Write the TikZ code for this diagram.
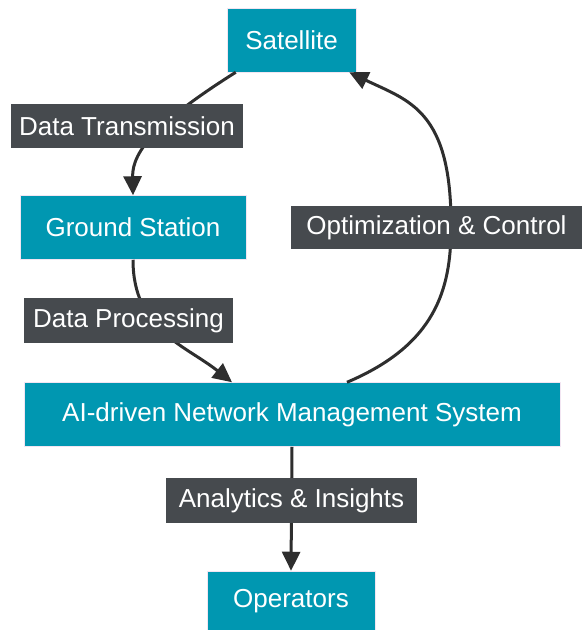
\documentclass[tikz,border=0pt]{standalone}
\usepackage{fontspec}
\setmainfont{Liberation Sans}
\usetikzlibrary{positioning,arrows.meta,calc}
\definecolor{tealbox}{HTML}{0097B1}
\definecolor{slatebox}{HTML}{464A4E}
\definecolor{linkline}{HTML}{2E2E2E}

\begin{document}
\begin{tikzpicture}[
  x=1pt, y=-1pt,
  font=\fontsize{26}{30}\selectfont,
  box/.style={fill=tealbox, draw=violet!10, line width=0.5pt, text=white,
              inner sep=0pt, minimum height=64pt},
  tag/.style={fill=slatebox, text=white, inner sep=0pt, minimum height=44pt},
  arr/.style={draw=linkline, line width=3pt, -{Triangle[length=19pt, width=18pt]}}
]
\useasboundingbox (0,0) rectangle (582,630);
\node[box, minimum width=129pt] (sat) at (291.5,40) {Satellite};
\node[box, minimum width=226pt, below=123pt of sat, xshift=-158.5pt] (gs) {Ground Station};
\node[box, minimum width=536pt, below=310pt of sat, xshift=0.5pt] (ai) {AI-driven Network Management System};
\node[box, minimum width=168pt, minimum height=60pt, below=124pt of ai, xshift=-1pt] (ops) {Operators};
% links first, labels sit on top of them
\draw[arr] ([xshift=9pt]sat.south west) .. controls (160,120) and (132,150) .. (gs.north);
\draw[arr] (gs.south) .. controls (133,330) and (185,345) .. ([xshift=-60pt]ai.north);
\draw[arr] ([xshift=55pt]ai.north) .. controls (435,345) and (451,290) .. (451,228)
  .. controls (452,110) and (409,101) .. ([xshift=-7pt]sat.south east);
\draw[arr] (ai.south) -- (ops.north);
\node[tag, minimum width=232pt] (dtx) at (127,126) {Data Transmission};
\node[tag, minimum width=291pt, minimum height=43pt] (opt) at (436.5,227.5) {Optimization \& Control};
\node[tag, minimum width=209pt, minimum height=45pt] (dproc) at (128.5,320.5) {Data Processing};
\node[tag, minimum width=251pt, minimum height=45pt] (ana) at (291.5,500.5) {Analytics \& Insights};
\end{tikzpicture}
\end{document}
